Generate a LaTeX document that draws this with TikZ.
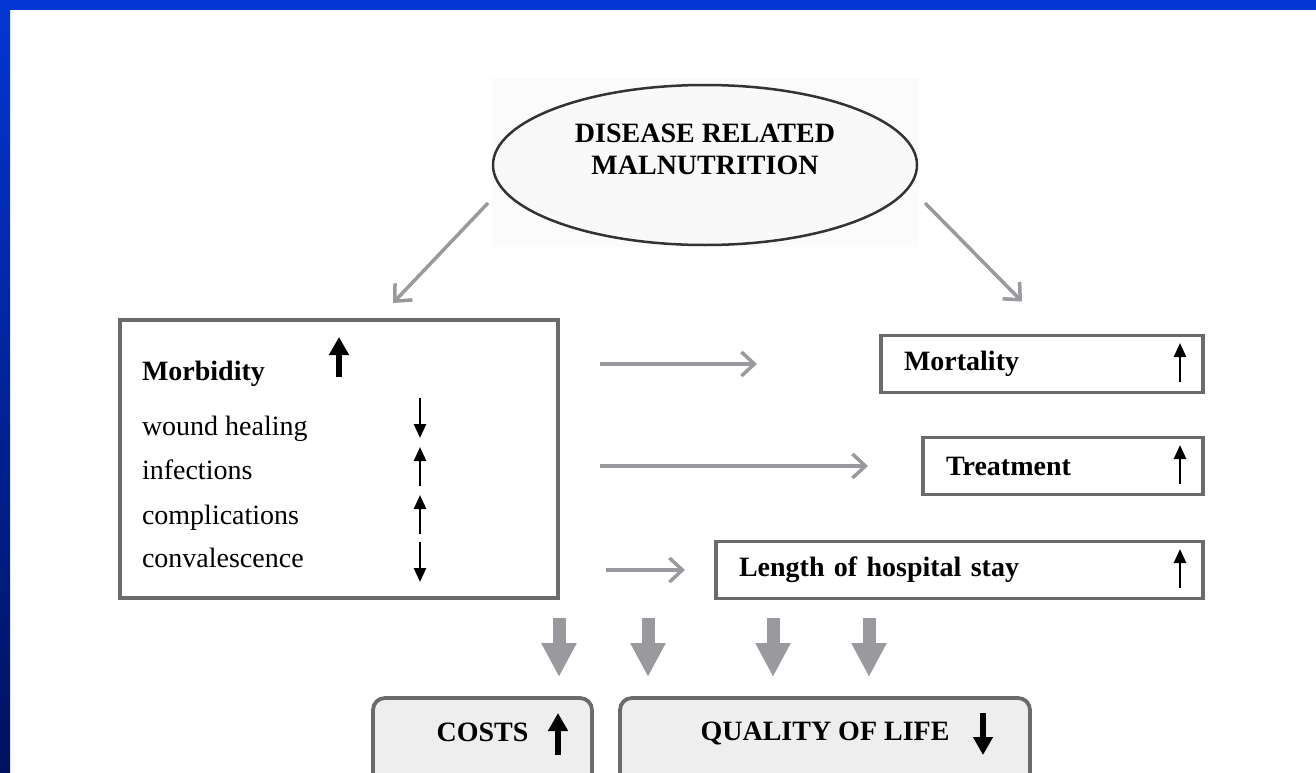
\documentclass[tikz,border=0pt]{standalone}
\usepackage{fontspec}
\setmainfont{Liberation Serif}
\usetikzlibrary{shapes.geometric,arrows.meta,positioning}

\definecolor{frameblue}{HTML}{0436D4}
\definecolor{navy}{HTML}{00125E}
\definecolor{boxgray}{HTML}{6B6B6B}
\definecolor{arrgray}{HTML}{9A9A9E}
\definecolor{ellline}{HTML}{333333}
\definecolor{ellfill}{HTML}{F9F9F9}
\definecolor{ellbg}{HTML}{FBFBFB}
\definecolor{boxfill}{HTML}{EEEEEE}

\begin{document}
\begin{tikzpicture}[
    x=1pt, y=-1pt,
    every node/.style={inner sep=0pt, outer sep=0pt},
    head/.style={font=\fontsize{28}{32}\selectfont\bfseries},
    item/.style={font=\fontsize{28}{32}\selectfont, anchor=west, text height=20pt, text depth=6pt},
    ell/.style={ellipse, draw=ellline, line width=2.5pt, fill=ellfill, minimum width=424pt, minimum height=160pt},
    bigbox/.style={rectangle, draw=boxgray, line width=3.8pt},
    rbox/.style={bigbox, fill=white, anchor=east, inner xsep=23pt, minimum height=57pt, align=left, head},
    resbox/.style={bigbox, fill=boxfill, rounded corners=12pt, minimum height=100pt},
    flow/.style={draw=arrgray, line width=3.5pt, -{Straight Barb[length=13pt,width=24pt]}},
    block/.style={draw=arrgray, line width=13pt, -{Triangle[width=33pt,length=34pt]}},
    smallarr/.style={draw=black, line width=2.5pt, -{Triangle[width=12pt,length=14pt]}},
    boldarr/.style={draw=black, line width=6pt, -{Triangle[width=19pt,length=18pt]}}
]
\useasboundingbox (0,0) rectangle (1316,773);

% slide frame
\fill[frameblue] (0,0) rectangle (1316,10);
\shade[top color=frameblue, bottom color=navy] (0,0) rectangle (10,773);

% top ellipse
\fill[ellbg] (492,78) rectangle (918,247);
\node[ell] (dis) at (705,165) {};
\node[head, align=center] (distext) at ([yshift=16pt]dis.center) {DISEASE RELATED\\MALNUTRITION};

% morbidity box
\node[bigbox, minimum width=438pt, minimum height=278pt] (morb) at (339,459) {};
\node[item, head] (morbt) at ([xshift=22pt,yshift=86pt]morb.west) {Morbidity};
\node[item] (wound) at ([yshift=-55pt]morbt.west) {wound healing};
\node[item] (infect) at ([yshift=-44pt]wound.west) {infections};
\node[item] (compl) at ([yshift=-45pt]infect.west) {complications};
\node[item] (conv) at ([yshift=-43pt]compl.west) {convalescence};
\draw[boldarr] ([yshift=-57pt]morb.north) -- ++(0,-40);
\coordinate (ax) at ([xshift=81pt]morb.north);
\draw[smallarr] (ax |- wound) ++(0,-30) -- ++(0,40);
\draw[smallarr] (ax |- infect) ++(0,14) -- ++(0,-39);
\draw[smallarr] (ax |- compl) ++(0,17) -- ++(0,-39);
\draw[smallarr] (ax |- conv) ++(0,-18) -- ++(0,40);

% outcome boxes on the right
\node[rbox, text width=276pt] (mort) at (1203,364) {Mortality};
\node[rbox, text width=234pt, below=45pt of mort.south east, anchor=north east] (treat) {Treatment};
\node[rbox, text width=441pt, below=47pt of treat.south east, anchor=north east] (len) {Length of hospital stay};
\foreach \b in {mort,treat,len}
  \draw[smallarr] ([xshift=-23pt,yshift=-18pt]\b.east) -- ++(0,-39);

% arrows from the ellipse
\coordinate (morbin) at ([xshift=54pt,yshift=17pt]morb.north);
\coordinate (mortin) at ([xshift=-20pt,yshift=34pt]mort.north);
\draw[flow] (dis.west) ++(-5,38) -- (morbin);
\draw[flow] (dis.east) ++(8,38) -- (mortin);

% arrows from morbidity
\draw[flow, shorten >=124pt] (morb.east |- mort.west) ++(42,0) -- (mort.west);
\draw[flow, shorten >=55pt] (morb.east |- treat.west) ++(42,0) -- (treat.west);
\draw[flow, shorten >=31pt] (morb.east |- len.west) ++(48,0) -- (len.west);

% costs and quality of life
\node[resbox, minimum width=219pt, anchor=north] (costs) at (482.5,698) {};
\node[resbox, minimum width=410pt, right=28pt of costs] (qol) {};
\node[head] (coststxt) at ([yshift=-34pt]costs.north) {COSTS};
\node[head] (qoltxt) at ([yshift=-35pt]qol.north) {QUALITY OF LIFE};
\draw[boldarr] ([xshift=-34pt,yshift=-57pt]costs.north east) -- ++(0,-42);
\draw[boldarr] ([xshift=-47pt,yshift=-15pt]qol.north east) -- ++(0,42);

\foreach \x in {559,648,773,869}
  \draw[block] (\x,0 |- morb.south) ++(0,20) -- ++(0,59);

\end{tikzpicture}
\end{document}
